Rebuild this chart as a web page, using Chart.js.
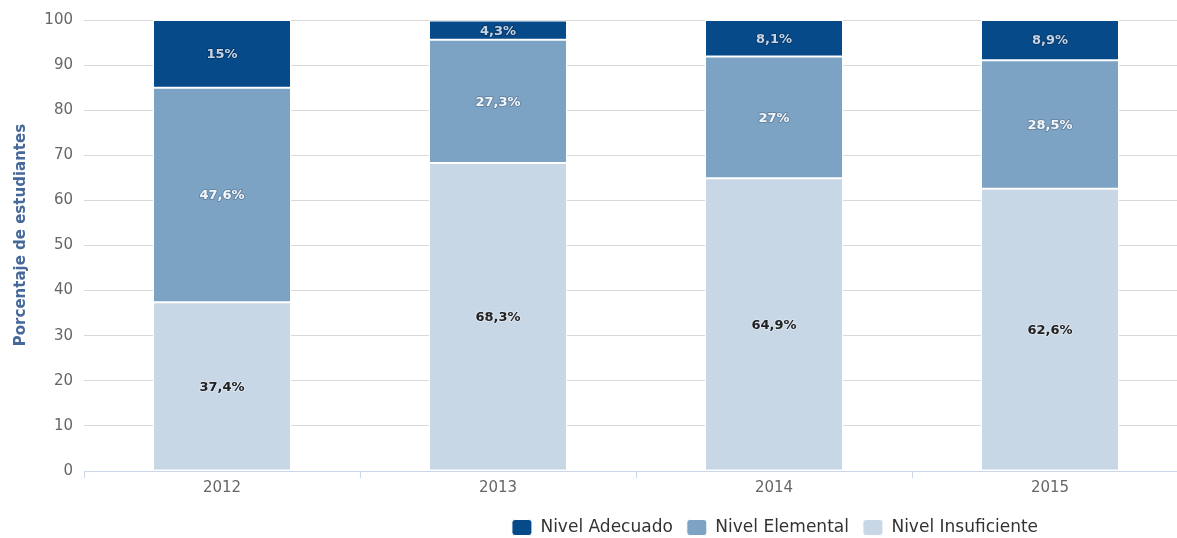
<!DOCTYPE html>
<html>
<head>
<meta charset="utf-8">
<script src="https://cdn.jsdelivr.net/npm/chart.js@4/dist/chart.umd.min.js"></script>
<style>
  html, body { margin: 0; padding: 0; background: #fff; overflow: hidden; }
  #wrap { width: 1550px; height: 550px; position: relative; }
</style>
</head>
<body>
<div id="wrap"><canvas id="c"></canvas></div>
<script>
const categories = ['2012', '2013', '2014', '2015'];
const insuficiente = [37.4, 68.3, 64.9, 62.6];
const elemental = [47.6, 27.3, 27, 28.5];
const adecuado = [15, 4.3, 8.1, 8.9];
const seriesNames = ['Nivel Insuficiente', 'Nivel Elemental', 'Nivel Adecuado'];
const yTicks = [0, 10, 20, 30, 40, 50, 60, 70, 80, 90, 100];
const yTitle = '    Porcentaje de estudiantes';

const FONT = '"DejaVu Sans", Verdana, sans-serif';

const labelPlugin = {
  id: 'segLabels',
  afterDatasetsDraw(chart) {
    const ctx = chart.ctx;
    ctx.save();
    ctx.font = 'bold 13px ' + FONT;
    ctx.textAlign = 'center';
    ctx.textBaseline = 'middle';
    chart.data.datasets.forEach((ds, di) => {
      const meta = chart.getDatasetMeta(di);
      meta.data.forEach((el, i) => {
        const v = ds.data[i];
        const txt = String(v).replace('.', ',') + '%';
        const y = (el.y + el.base) / 2;
        ctx.lineWidth = 2;
        ctx.lineJoin = 'round';
        ctx.strokeStyle = ds.labelOutline;
        ctx.strokeText(txt, el.x, y + 1);
        ctx.fillStyle = ds.labelColor;
        ctx.fillText(txt, el.x, y + 1);
      });
    });
    ctx.restore();
  }
};

new Chart(document.getElementById('c'), {
  type: 'bar',
  data: {
    labels: categories,
    datasets: [
      { label: seriesNames[0], data: insuficiente, backgroundColor: '#c8d7e6', labelColor: '#222', labelOutline: 'rgba(255,255,255,0.35)' },
      { label: seriesNames[1], data: elemental, backgroundColor: '#7ca3c4', labelColor: '#f4f6f8', labelOutline: 'rgba(60,80,110,0.35)' },
      { label: seriesNames[2], data: adecuado, backgroundColor: '#064a8a', labelColor: '#c9d3e2', labelOutline: 'rgba(0,0,0,0.2)' }
    ].map(d => Object.assign(d, {
      borderColor: '#ffffff', borderWidth: 1, borderSkipped: false,
      categoryPercentage: 1.0, barPercentage: 0.5
    }))
  },
  options: {
    responsive: true,
    maintainAspectRatio: false,
    animation: false,
    layout: { padding: { top: 12, bottom: 4, left: 0, right: 0 } },
    plugins: {
      tooltip: { enabled: false },
      legend: {
        position: 'bottom',
        reverse: true,
        labels: {
          boxWidth: 20, boxHeight: 16, useBorderRadius: true, borderRadius: 3,
          padding: 14, color: '#333',
          font: { family: FONT, size: 17 }
        }
      }
    },
    scales: {
      x: {
        stacked: true,
        grid: { display: true, drawOnChartArea: false, offset: true, color: '#ccd6eb', tickLength: 7 },
        border: { display: true, color: '#ccd6eb' },
        ticks: { color: '#666', font: { family: FONT, size: 15 }, padding: 1 },
        afterFit(s) { s.height = 34; }
      },
      y: {
        stacked: true,
        min: 0, max: 100,
        afterBuildTicks(s) { s.ticks = yTicks.map(v => ({ value: v })); },
        grid: { color: '#d8d8d8', drawTicks: false, lineWidth: 1 },
        border: { display: false },
        ticks: { color: '#666', font: { family: FONT, size: 15 }, padding: 11 },
        title: { display: true, text: yTitle, color: '#46689a', font: { family: FONT, size: 15, weight: 'bold' }, padding: { top: 12, bottom: 0 } },
        afterFit(s) { s.width = 84; }
      },
      y2: {
        position: 'right',
        display: true,
        grid: { display: false },
        border: { display: false },
        ticks: { display: false },
        afterFit(s) { s.width = 362; }
      }
    }
  },
  plugins: [labelPlugin]
});
</script>
</body>
</html>
